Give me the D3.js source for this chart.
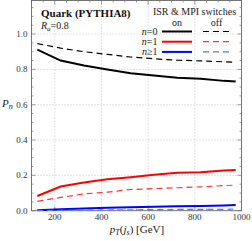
<!DOCTYPE html>
<html>
<head>
<meta charset="utf-8">
<script src="https://cdn.jsdelivr.net/npm/d3@7"></script>
<style>
  body { margin: 0; background: #fff; }
  svg { display: block; font-family: "Liberation Serif", "DejaVu Serif", serif; }
</style>
</head>
<body>
<svg id="chart" width="252" height="241"></svg>
<script>
// pT values (GeV) of the curve points
var pt = [125, 225, 325, 425, 525, 625, 725, 825, 925, 975];

// ISR & MPI on (solid)
var n0On = [0.912, 0.850, 0.822, 0.800, 0.778, 0.765, 0.752, 0.747, 0.735, 0.731];
var n1On = [0.083, 0.137, 0.160, 0.178, 0.190, 0.203, 0.215, 0.218, 0.228, 0.230];
var n2On = [0.003, 0.008, 0.012, 0.016, 0.019, 0.022, 0.025, 0.027, 0.030, 0.032];

// ISR & MPI off (dashed)
var n0Off = [0.946, 0.920, 0.900, 0.885, 0.870, 0.860, 0.852, 0.848, 0.843, 0.840];
var n1Off = [0.053, 0.075, 0.095, 0.105, 0.120, 0.125, 0.130, 0.135, 0.142, 0.145];
var n2Off = [0.001, 0.002, 0.003, 0.004, 0.005, 0.006, 0.007, 0.008, 0.008, 0.009];

var xTicks = [200, 400, 600, 800, 1000];
var yTicks = [0.0, 0.2, 0.4, 0.6, 0.8, 1.0];

var series = [
  { v: n0On, color: "#000", dash: null },
  { v: n1On, color: "#f00", dash: null },
  { v: n2On, color: "#00f", dash: null },
  { v: n0Off, color: "#000", dash: "6,4" },
  { v: n1Off, color: "#f33", dash: "6,4" },
  { v: n2Off, color: "#5577ff", dash: "6,4" }
];

var svg = d3.select("#chart");
var margin = { top: 0.5, right: 10.5, bottom: 30.3, left: 31.5 };
var width = 252 - margin.left - margin.right;
var height = 241 - margin.top - margin.bottom;

var g = svg.append("g")
  .attr("transform", "translate(" + margin.left + "," + margin.top + ")");

var x = d3.scaleLinear().domain([100, 1000]).range([0, width]);
var y = d3.scaleLinear().domain([0, 1.19]).range([height, 0]);

// dotted grid
g.append("g").selectAll("line").data(xTicks.slice(0, -1)).enter().append("line")
  .attr("x1", function (d) { return x(d); }).attr("x2", function (d) { return x(d); })
  .attr("y1", 0).attr("y2", height)
  .attr("stroke", "#bbb").attr("stroke-width", 0.8).attr("stroke-dasharray", "1,2");
g.append("g").selectAll("line").data(yTicks.slice(1)).enter().append("line")
  .attr("y1", function (d) { return y(d); }).attr("y2", function (d) { return y(d); })
  .attr("x1", 0).attr("x2", width)
  .attr("stroke", "#bbb").attr("stroke-width", 0.8).attr("stroke-dasharray", "1,2");

// inner ticks on all sides
var tickCol = "#888";
var minorY = d3.range(0, 1.19, 0.05);
var minorX = d3.range(100, 1001, 50);
function isMajorY(d) { return Math.abs(d * 5 - Math.round(d * 5)) < 1e-6; }
function isMajorX(d) { return d % 200 === 0; }

g.append("g").selectAll("line").data(minorY).enter().append("line")
  .attr("x1", 0).attr("x2", function (d) { return isMajorY(d) ? 4 : 2; })
  .attr("y1", function (d) { return y(d); }).attr("y2", function (d) { return y(d); })
  .attr("stroke", tickCol).attr("stroke-width", 0.8);
g.append("g").selectAll("line").data(minorY).enter().append("line")
  .attr("x1", width).attr("x2", function (d) { return width - (isMajorY(d) ? 4 : 2); })
  .attr("y1", function (d) { return y(d); }).attr("y2", function (d) { return y(d); })
  .attr("stroke", tickCol).attr("stroke-width", 0.8);
g.append("g").selectAll("line").data(minorX).enter().append("line")
  .attr("y1", height).attr("y2", function (d) { return height - (isMajorX(d) ? 4 : 2); })
  .attr("x1", function (d) { return x(d); }).attr("x2", function (d) { return x(d); })
  .attr("stroke", tickCol).attr("stroke-width", 0.8);
g.append("g").selectAll("line").data(minorX).enter().append("line")
  .attr("y1", 0).attr("y2", function (d) { return isMajorX(d) ? 4 : 2; })
  .attr("x1", function (d) { return x(d); }).attr("x2", function (d) { return x(d); })
  .attr("stroke", tickCol).attr("stroke-width", 0.8);

// frame
g.append("rect")
  .attr("width", width).attr("height", height)
  .attr("fill", "none").attr("stroke", "#666").attr("stroke-width", 0.9);

// tick labels
g.append("g").selectAll("text").data(yTicks).enter().append("text")
  .attr("x", -4).attr("y", function (d) { return y(d); })
  .attr("dy", "0.33em").attr("text-anchor", "end")
  .attr("font-size", 9).attr("fill", "#333")
  .text(function (d) { return d.toFixed(1); });
g.append("g").selectAll("text").data(xTicks).enter().append("text")
  .attr("x", function (d) { return x(d); }).attr("y", height + 9.5)
  .attr("text-anchor", "middle")
  .attr("font-size", 9).attr("fill", "#333")
  .text(function (d) { return d; });

// curves
var line = d3.line()
  .x(function (d, i) { return x(pt[i]); })
  .y(function (d) { return y(d); });

series.forEach(function (s) {
  g.append("path")
    .datum(s.v)
    .attr("d", line)
    .attr("fill", "none")
    .attr("stroke", s.color)
    .attr("stroke-width", s.dash ? 1.2 : 2)
    .attr("stroke-dasharray", s.dash);
});

// axis titles
var pn = svg.append("text").attr("x", 2).attr("y", 107).attr("font-size", 11).attr("fill", "#222");
pn.append("tspan").attr("font-style", "italic").text("P");
pn.append("tspan").attr("font-style", "italic").attr("font-size", 8).attr("dy", 2).text("n");

var xl = svg.append("text").attr("x", 137).attr("y", 232.5).attr("text-anchor", "middle")
  .attr("font-size", 11).attr("fill", "#222");
xl.append("tspan").attr("font-style", "italic").text("p");
xl.append("tspan").attr("font-style", "italic").attr("font-size", 8).attr("dy", 2).text("T");
xl.append("tspan").attr("dy", -2).text("(");
xl.append("tspan").attr("font-style", "italic").text("j");
xl.append("tspan").attr("font-style", "italic").attr("font-size", 8).attr("dy", 2).text("s");
xl.append("tspan").attr("dy", -2).text(") [GeV]");

// title
svg.append("text").attr("x", 41).attr("y", 16.5)
  .attr("font-size", 11).attr("font-weight", "bold").attr("fill", "#111")
  .text("Quark (PYTHIA8)");
var ra = svg.append("text").attr("x", 41).attr("y", 28.5).attr("font-size", 10).attr("fill", "#222");
ra.append("tspan").attr("font-style", "italic").text("R");
ra.append("tspan").attr("font-style", "italic").attr("font-size", 7).attr("dy", 2).text("a");
ra.append("tspan").attr("dy", -2).text("=0.8");

// legend
var leg = svg.append("g").attr("font-size", 10).attr("fill", "#222");
leg.append("text").attr("x", 194.5).attr("y", 15).attr("text-anchor", "middle").text("ISR & MPI switches");
leg.append("text").attr("x", 177).attr("y", 26).attr("text-anchor", "middle").text("on");
leg.append("text").attr("x", 216.5).attr("y", 26).attr("text-anchor", "middle").text("off");

var legRows = [
  { lab: "=0", on: "#000", off: "#000" },
  { lab: "=1", on: "#f00", off: "#f33" },
  { lab: "\u22651", on: "#00f", off: "#5577ff" }
];
legRows.forEach(function (r, i) {
  var yy = 31.5 + i * 10.2;
  var t = leg.append("text").attr("x", 157.5).attr("y", yy + 3.5).attr("text-anchor", "end");
  t.append("tspan").attr("font-style", "italic").text("n");
  t.append("tspan").text(r.lab);
  leg.append("line").attr("x1", 162).attr("x2", 192).attr("y1", yy).attr("y2", yy)
    .attr("stroke", r.on).attr("stroke-width", 2);
  leg.append("line").attr("x1", 203).attr("x2", 231).attr("y1", yy).attr("y2", yy)
    .attr("stroke", r.off).attr("stroke-width", 1.2).attr("stroke-dasharray", "6,4");
});
</script>
</body>
</html>
